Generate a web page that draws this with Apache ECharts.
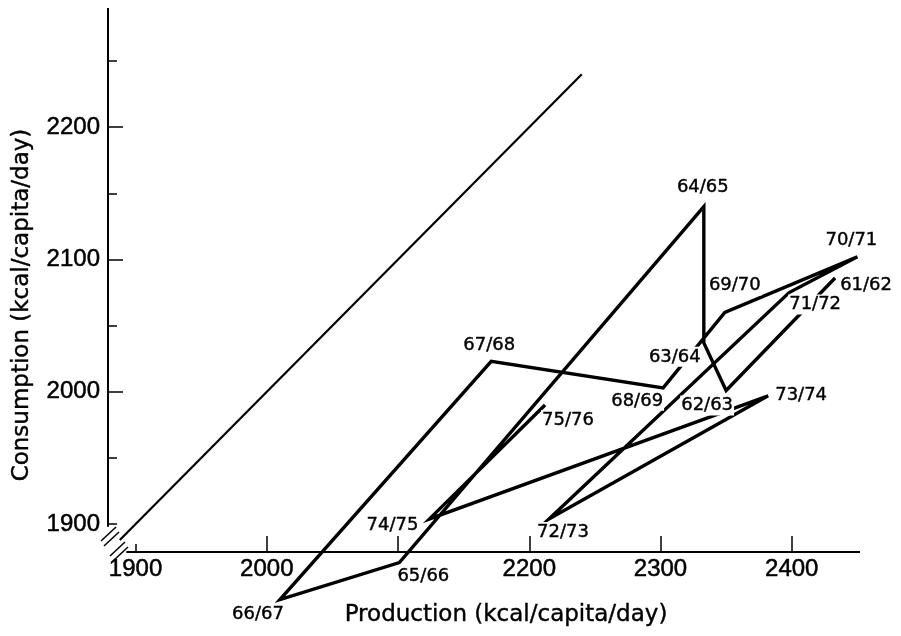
<!DOCTYPE html>
<html>
<head>
<meta charset="utf-8">
<script src="https://cdn.jsdelivr.net/npm/echarts@6/dist/echarts.min.js"></script>
<style>
html,body{margin:0;padding:0;background:#fff;}
#main{width:901px;height:636px;}
</style>
</head>
<body>
<div id="main"></div>
<script>
// ---- data ----
const seasons = ['61/62','62/63','63/64','64/65','65/66','66/67','67/68','68/69','69/70','70/71','71/72','72/73','73/74','74/75','75/76'];
const production = [2433, 2350, 2333, 2333, 2101, 2010, 2171, 2302, 2349, 2450, 2398, 2215, 2382, 2124, 2212];
const consumption = [2086, 2001, 2037, 2140, 1871, 1843, 2023, 2003, 2060, 2102, 2075, 1904, 1997, 1904, 1990];
const diagonalRange = [1888, 2240];          // reference line: consumption = production
const xTickLabels = [1900, 2000, 2200, 2300, 2400];
const xMajorTicks = [2000, 2100, 2200, 2300, 2400];
const yTickLabels = [1900, 2000, 2100, 2200];
const yMajorTicks = [2000, 2100, 2200];
const yMinorTicks = [1900, 1950, 2050, 2150, 2250];

// ---- styling (label offsets in px) ----
const labelOffsets = [[31,7],[-19,15],[-29,14],[-1,-19],[24,14],[-22,15],[-2,-16],[-26,13],[10,-27],[-6,-17],[26,12],[14,13],[33,0],[-37,6],[23,15]];

const X_MIN = 1879, X_MAX = 2452, Y_MIN = 1879, Y_MAX = 2290;
const pathData = seasons.map((s, i) => [production[i], consumption[i]]);
const labelData = seasons.map((s, i) => ({
  name: s,
  value: [production[i], consumption[i]],
  label: { offset: labelOffsets[i] }
}));

const tickFont = 'Liberation Sans';
const tickLabel = { color: '#000', fontSize: 24, fontFamily: tickFont, textBorderColor: '#000', textBorderWidth: 0.5 };
const chart = echarts.init(document.getElementById('main'), null, {renderer: 'canvas'});
const option = {
  backgroundColor: '#fff',
  animation: false,
  grid: { left: 108, right: 41, top: 8, bottom: 84, containLabel: false },
  xAxis: [
    { type: 'value', min: X_MIN, max: X_MAX, position: 'bottom',
      axisLine: { show: false }, splitLine: { show: false },
      axisTick: { show: true, inside: true, length: 16, customValues: xMajorTicks, lineStyle: { color: '#000', width: 1.5 } },
      axisLabel: Object.assign({ show: true, customValues: xTickLabels, formatter: v => String(v), margin: 5 }, tickLabel)
    },
    { type: 'value', min: X_MIN, max: X_MAX, position: 'bottom',
      axisLine: { show: false }, splitLine: { show: false },
      axisTick: { show: true, inside: true, length: 8, customValues: [1900], lineStyle: { color: '#000', width: 1.5 } },
      axisLabel: { show: false }
    }
  ],
  yAxis: [
    { type: 'value', min: Y_MIN, max: Y_MAX, position: 'left',
      axisLine: { show: false }, splitLine: { show: false },
      axisTick: { show: true, inside: true, length: 15, customValues: yMajorTicks, lineStyle: { color: '#000', width: 1.5 } },
      axisLabel: Object.assign({ show: true, customValues: yTickLabels, formatter: v => String(v), margin: 8 }, tickLabel)
    },
    { type: 'value', min: Y_MIN, max: Y_MAX, position: 'left',
      axisLine: { show: false }, splitLine: { show: false },
      axisTick: { show: true, inside: true, length: 9, customValues: yMinorTicks, lineStyle: { color: '#000', width: 1.5 } },
      axisLabel: { show: false }
    }
  ],
  series: [
    { type: 'line', name: 'diagonal', data: [[diagonalRange[0], diagonalRange[0]], [diagonalRange[1], diagonalRange[1]]],
      showSymbol: false, clip: false, z: 3,
      lineStyle: { color: '#000', width: 2.2 } },
    { type: 'line', name: 'path', data: pathData, showSymbol: false, clip: false, z: 3,
      lineStyle: { color: '#000', width: 3.4, join: 'miter' } },
    { type: 'scatter', name: 'labels', data: labelData, symbolSize: 0, clip: false, z: 5,
      itemStyle: { opacity: 1 },
      label: { show: true, position: 'inside', formatter: p => p.name, color: '#000', opacity: 1,
        fontFamily: 'DejaVu Sans', fontSize: 18, backgroundColor: '#fff', padding: [1, 1],
        textBorderWidth: 0.4, textBorderColor: '#000' } }
  ]
};
chart.setOption(option);

const px = (x, y) => chart.convertToPixel({ gridIndex: 0 }, [x, y]);
const yTop = px(X_MIN, Y_MAX), yBot = px(X_MIN, 1898);
const xLeft = px(1893, Y_MIN), xRight = px(X_MAX, Y_MIN);
const c = px(X_MIN, Y_MIN);
const ls = { stroke: '#000', lineWidth: 2 };
const slash = (x1, y1, x2, y2) => ({ type: 'line', shape: { x1: c[0] + x1, y1: c[1] + y1, x2: c[0] + x2, y2: c[1] + y2 }, style: { stroke: '#000', lineWidth: 1.5 }, z: 10 });
const titleStyle = { font: '23px "DejaVu Sans"', fill: '#000', stroke: '#000', lineWidth: 0.4, textAlign: 'center', textVerticalAlign: 'middle' };
chart.setOption({
  graphic: [
    { type: 'line', shape: { x1: yTop[0], y1: yTop[1], x2: yBot[0], y2: yBot[1] }, style: ls, z: 10 },
    { type: 'line', shape: { x1: xLeft[0], y1: xLeft[1], x2: xRight[0], y2: xRight[1] }, style: ls, z: 10 },
    slash(-7, -11, 8, -25),
    slash(-4, -6, 11, -20),
    slash(2, 4, 17, -10),
    slash(5, 9, 20, -5),
    { type: 'text', x: 506, y: 615, z: 10,
      style: Object.assign({ text: 'Production (kcal/capita/day)' }, titleStyle) },
    { type: 'text', x: 22, y: 305, rotation: Math.PI / 2, z: 10,
      style: Object.assign({ text: 'Consumption (kcal/capita/day)' }, titleStyle) }
  ]
});
</script>
</body>
</html>
